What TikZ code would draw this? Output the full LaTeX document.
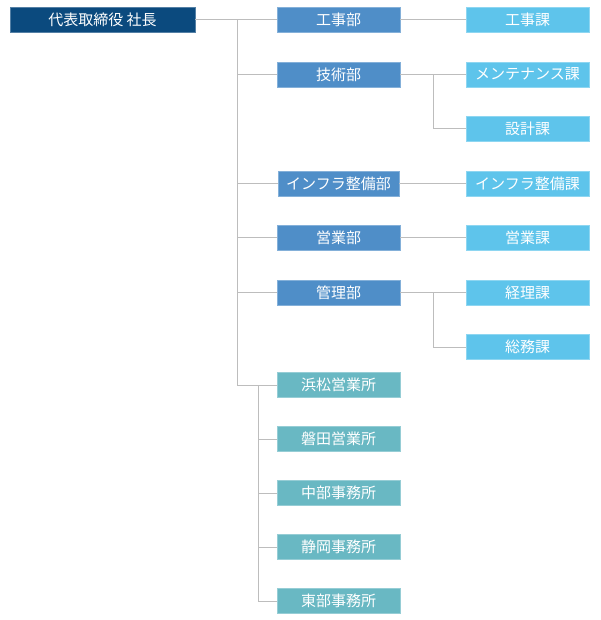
\documentclass[tikz,border=0pt]{standalone}
\usepackage{fontspec}
\setmainfont{Noto Sans CJK JP}
\definecolor{cPres}{HTML}{0B4A7E}
\definecolor{cBu}{HTML}{4F8EC8}
\definecolor{cKa}{HTML}{5EC4EB}
\definecolor{cOf}{HTML}{69B8C3}
\definecolor{cLine}{HTML}{BDBDBD}
\tikzset{
  box/.style={minimum height=25pt, inner sep=0pt, text=white, font=\fontsize{15}{16}\selectfont, anchor=center},
  pres/.style={box, fill=cPres, draw=cPres!70!white, line width=0.6pt, minimum width=185pt},
  bu/.style={box, fill=cBu, draw=cBu!70!white, line width=0.6pt, minimum width=123pt},
  ka/.style={box, fill=cKa, draw=cKa!70!white, line width=0.6pt, minimum width=123pt},
  of/.style={box, fill=cOf, draw=cOf!70!white, line width=0.6pt, minimum width=123pt},
  conn/.style={draw=cLine, line width=1pt}
}
\begin{document}
\begin{tikzpicture}[x=1pt,y=-1pt]
\useasboundingbox (0,0) rectangle (600,620);
% nodes
\node[pres] (p) at (102.5,19.5) {代表取締役 社長};
\node[bu] (b1) at (338.5,19.5) {工事部};
\node[bu] (b2) at (338.5,74.5) {技術部};
\node[bu, minimum width=121pt] (b3) at (338.5,183.5) {インフラ整備部};
\node[bu] (b4) at (338.5,237.5) {営業部};
\node[bu] (b5) at (338.5,292.5) {管理部};
\node[ka] (k1) at (527.5,19.5) {工事課};
\node[ka] (k2) at (527.5,74.5) {メンテナンス課};
\node[ka] (k3) at (527.5,128.5) {設計課};
\node[ka] (k4) at (527.5,183.5) {インフラ整備課};
\node[ka] (k5) at (527.5,237.5) {営業課};
\node[ka] (k6) at (527.5,292.5) {経理課};
\node[ka] (k7) at (527.5,347) {総務課};
\node[of] (o1) at (338.5,385) {浜松営業所};
\node[of] (o2) at (338.5,439) {磐田営業所};
\node[of] (o3) at (338.5,493) {中部事務所};
\node[of] (o4) at (338.5,547) {静岡事務所};
\node[of] (o5) at (338.5,601) {東部事務所};
% coordinates
\coordinate (t) at (237,19.5);
\coordinate (tb) at (237,385);
\coordinate (s) at (258,385);
\coordinate (s5) at (258,601);
\coordinate (m2) at (433,74.5);
\coordinate (m2b) at (433,128.5);
\coordinate (m5) at (433,292.5);
\coordinate (m5b) at (433,347);
% connectors
\draw[conn] (p.east) -- (b1.west);
\draw[conn] (t) -- (tb) -- (o1.west);
\draw[conn] (b2.west -| t) -- (b2.west);
\draw[conn] (b3.west -| t) -- (b3.west);
\draw[conn] (b4.west -| t) -- (b4.west);
\draw[conn] (b5.west -| t) -- (b5.west);
\draw[conn] (s) -- (s5) -- (o5.west);
\draw[conn] (o2.west -| s) -- (o2.west);
\draw[conn] (o3.west -| s) -- (o3.west);
\draw[conn] (o4.west -| s) -- (o4.west);
\draw[conn] (b1.east) -- (k1.west);
\draw[conn] (b2.east) -- (k2.west);
\draw[conn] (m2) -- (m2b) -- (k3.west);
\draw[conn] (b3.east) -- (k4.west);
\draw[conn] (b4.east) -- (k5.west);
\draw[conn] (b5.east) -- (k6.west);
\draw[conn] (m5) -- (m5b) -- (k7.west);
\end{tikzpicture}
\end{document}
